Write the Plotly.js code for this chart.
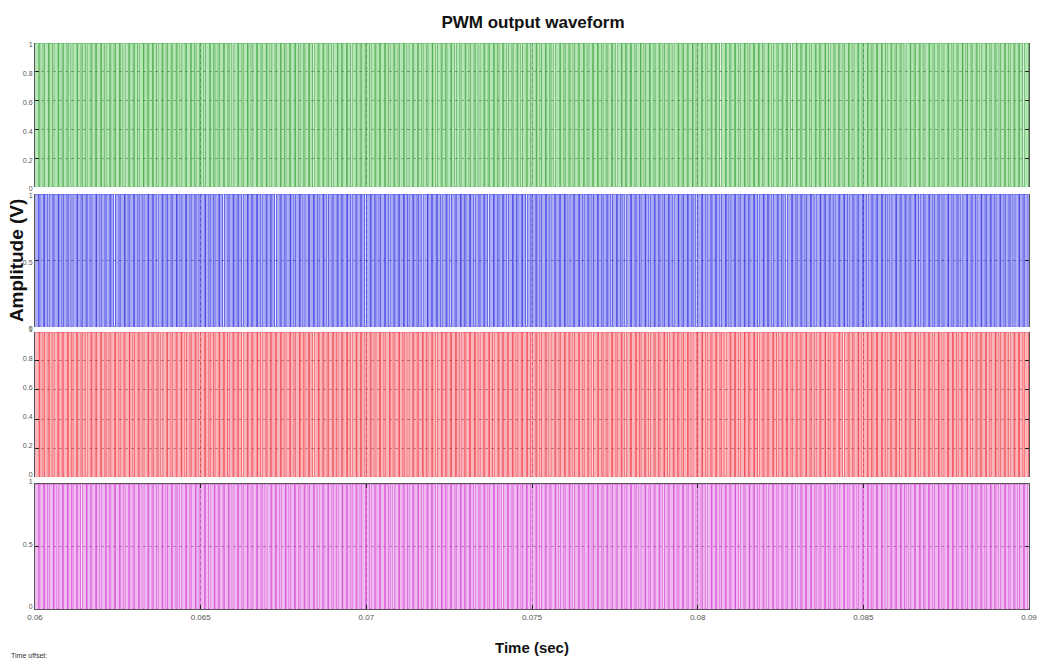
<!DOCTYPE html>
<html>
<head>
<meta charset="utf-8">
<script src="https://cdn.plot.ly/plotly-3.0.1.min.js"></script>
<style>html,body{margin:0;padding:0;background:#fff;}#chart{width:1041px;height:660px;}</style>
</head>
<body>
<div id="chart"></div>
<script>
// Time window of the scope (s) and number of carrier periods visible
const timeStart = 0.06;
const timeEnd = 0.09;
const carrierPeriods = 210;

// Duty cycle (%) of each carrier period, read/
const dutyGreen = [
80,72,85,68,90,75,78,62,88,74,
70,83,76,92,66,79,73,86,60,81,
77,69,91,74,82,65,87,71,79,84,
63,76,89,72,80,68,93,75,70,85,
78,61,84,73,90,67,81,76,88,64,
74,86,70,79,92,69,77,83,62,80,
85,72,67,90,75,81,64,87,73,78,
69,84,76,91,66,80,72,88,60,79,
83,70,77,93,68,82,75,86,65,74,
89,71,79,63,85,76,92,70,81,67,
78,87,64,80,73,90,69,84,76,61,
88,75,82,68,79,94,66,77,85,72,
70,83,61,89,76,80,73,91,67,82,
75,86,69,78,63,87,74,81,92,68,
80,71,85,77,60,90,76,83,70,88,
65,79,84,72,91,67,78,86,74,62,
89,76,81,69,85,73,93,66,80,77,
71,88,64,82,75,90,68,79,84,70,
86,73,78,61,92,76,83,67,88,74,
79,65,87,72,81,94,69,77,85,63,
90,74,80,68,86,71,83,76,62,89];

const dutyBlue = [
74,86,69,81,93,72,78,64,88,76,
82,67,90,73,79,85,61,77,92,70,
84,75,68,89,80,63,87,72,78,91,
66,83,74,80,69,94,76,71,86,62,
79,88,73,65,90,77,82,68,85,74,
60,81,76,92,70,87,64,79,83,72,
89,67,78,85,73,91,68,80,75,63,
86,79,71,90,66,82,77,88,69,84,
74,61,93,76,81,70,87,65,78,90,
72,85,68,79,83,62,89,75,80,67,
91,73,86,64,77,84,70,92,66,81,
78,88,63,75,90,71,82,69,85,76,
80,67,89,74,61,87,79,72,93,68,
84,76,70,83,65,91,73,86,77,62,
88,71,81,78,69,92,64,80,75,87,
73,85,66,90,79,68,83,74,61,89,
77,82,70,86,63,91,76,80,67,84,
92,69,78,73,88,65,81,75,90,71,
64,87,79,83,70,94,68,77,85,72,
81,66,89,74,80,62,86,78,71,91,
75,83,68,88,73,79,64,90,77,82];

const dutyRed = [
88,71,79,65,84,76,92,69,81,74,
63,87,73,90,78,67,85,72,80,94,
70,82,66,89,75,79,61,86,73,83,
91,68,77,84,64,88,76,71,90,80,
69,85,74,62,87,79,93,67,82,75,
78,90,65,83,72,88,70,76,61,86,
81,74,92,68,79,85,63,89,77,71,
84,66,80,73,91,69,87,75,62,83,
76,89,70,82,67,93,74,80,86,64,
72,81,88,63,78,90,69,84,75,79,
87,65,76,92,71,83,68,79,60,85,
74,90,82,67,88,73,80,64,91,77,
69,84,75,86,62,79,93,71,82,68,
80,73,89,66,85,76,70,88,64,81,
92,70,78,83,74,61,87,79,68,90,
75,86,63,80,72,91,67,84,77,73,
83,69,88,76,65,82,94,71,79,86,
62,80,74,90,68,85,73,78,89,66,
81,77,64,87,72,93,70,83,75,69,
88,63,79,84,71,76,90,67,82,74,
85,72,91,68,80,64,86,78,73,89];

const dutyMagenta = [
76,84,70,91,65,80,87,73,79,62,
89,75,82,68,93,71,78,85,66,81,
74,90,63,86,77,72,88,69,83,79,
61,85,76,92,70,81,67,89,74,78,
87,64,80,73,90,68,84,77,62,86,
79,71,93,66,82,75,88,70,85,63,
80,89,74,67,91,78,72,84,69,86,
65,81,77,90,73,62,87,79,70,83,
92,68,85,76,64,88,71,80,75,89,
73,82,66,79,87,70,93,74,61,84,
78,90,69,83,72,86,65,81,77,91,
67,75,88,63,80,74,89,71,84,78,
85,70,79,92,66,83,76,61,88,73,
81,87,64,77,90,69,82,75,86,68,
74,62,89,80,71,85,78,93,67,79,
90,76,70,84,63,87,73,81,69,88,
66,82,78,91,75,68,86,72,80,64,
89,73,84,67,79,92,70,77,85,62,
81,76,88,71,65,83,90,74,78,69,
87,63,80,86,72,79,68,91,75,82,
70,85,77,64,89,74,81,66,88,76];

// Tick labels
const xTickVals = [0.06, 0.065, 0.07, 0.075, 0.08, 0.085, 0.09];
const xTickText = ['0.06', '0.065', '0.07', '0.075', '0.08', '0.085', '0.09'];
const yTickValsFine = [0, 0.2, 0.4, 0.6, 0.8, 1];
const yTickTextFine = ['0', '0.2', '0.4', '0.6', '0.8', '1'];
const yTickValsCoarse = [0, 0.5, 1];
const yTickTextCoarse = ['0', '0.5', '1'];

function pulseTrain(duty) {
  const T = (timeEnd - timeStart) / carrierPeriods;
  const x = [], y = [];
  for (let k = 0; k < duty.length; k++) {
    const t0 = timeStart + k * T;
    x.push(t0); y.push(1);
    x.push(t0 + duty[k] / 100 * T); y.push(0);
  }
  x.push(timeEnd); y.push(0);
  return {x, y};
}

const channels = [
  {duty: dutyGreen,   line: 'rgb(55,160,55)',  fill: 'rgba(110,205,110,0.5)',  ax: 'y'},
  {duty: dutyBlue,    line: 'rgb(45,45,225)',  fill: 'rgba(105,105,240,0.55)', ax: 'y2'},
  {duty: dutyRed,     line: 'rgb(240,50,60)',  fill: 'rgba(246,110,120,0.5)',  ax: 'y3'},
  {duty: dutyMagenta, line: 'rgb(210,60,210)', fill: 'rgba(225,120,225,0.5)',  ax: 'y4'}
];

const traces = channels.map(c => {
  const p = pulseTrain(c.duty);
  return {
    x: p.x, y: p.y, xaxis: 'x', yaxis: c.ax,
    type: 'scatter', mode: 'lines',
    line: {shape: 'hv', color: c.line, width: 0.7},
    fill: 'tozeroy', fillcolor: c.fill,
    hoverinfo: 'skip', showlegend: false
  };
});

const tickFont = {family: 'Liberation Sans, Arial, sans-serif', size: 7, color: '#555'};
const xTickFont = {family: 'Liberation Sans, Arial, sans-serif', size: 8, color: '#555'};

function yAxis(domain, vals, text, shift) {
  return {
    domain: domain, range: [0, 1], fixedrange: true,
    tickmode: 'array', tickvals: vals, ticktext: text,
    ticks: 'inside', ticklen: 4, tickcolor: '#222',
    tickfont: tickFont, ticklabelshift: shift,
    showgrid: true, gridcolor: 'rgba(0,0,0,0.45)', griddash: 'dot', gridwidth: 1,
    zeroline: false, showline: true, linecolor: '#555', linewidth: 1, mirror: 'ticks',
    anchor: 'x'
  };
}

const layout = {
  width: 1041, height: 660,
  margin: {l: 35, r: 12, t: 43, b: 51},
  paper_bgcolor: '#fff', plot_bgcolor: '#fff',
  showlegend: false,
  title: {text: 'PWM output waveform', x: 0.512, xanchor: 'center', y: 0.967, yanchor: 'middle',
          font: {family: 'Liberation Sans, Arial, sans-serif', size: 17, color: '#111', weight: 'bold'}},
  xaxis: {
    range: [timeStart, timeEnd], fixedrange: true, anchor: 'y4',
    tickmode: 'array', tickvals: xTickVals, ticktext: xTickText,
    ticks: 'inside', ticklen: 4, tickcolor: '#222', tickfont: xTickFont,
    showgrid: true, gridcolor: 'rgba(0,0,0,0.45)', griddash: 'dot', gridwidth: 1,
    zeroline: false, showline: true, linecolor: '#555', linewidth: 1, mirror: 'ticks',
    title: {text: 'Time (sec)', standoff: 21,
            font: {family: 'Liberation Sans, Arial, sans-serif', size: 15, color: '#111', weight: 'bold'}}
  },
  yaxis:  yAxis([0.7456, 1], yTickValsFine, yTickTextFine, 2),
  yaxis2: yAxis([0.4982, 0.7332], yTickValsCoarse, yTickTextCoarse, 2),
  yaxis3: yAxis([0.2332, 0.4894], yTickValsFine, yTickTextFine, -2),
  yaxis4: yAxis([0, 0.2208], yTickValsCoarse, yTickTextCoarse, -2),
  annotations: [
    {text: 'Amplitude (V)', textangle: -90, xref: 'paper', yref: 'paper',
     x: -0.019, y: 0.6166, xanchor: 'center', yanchor: 'middle', showarrow: false,
     font: {family: 'Liberation Sans, Arial, sans-serif', size: 19, color: '#111', weight: 'bold'}},
    {text: 'Time offset:', xref: 'paper', yref: 'paper', x: -0.026, y: -0.082,
     xanchor: 'left', yanchor: 'middle', showarrow: false,
     font: {family: 'Liberation Sans, Arial, sans-serif', size: 7, color: '#333'}}
  ]
};

Plotly.newPlot('chart', traces, layout, {staticPlot: true, displayModeBar: false});
</script>
</body>
</html>
